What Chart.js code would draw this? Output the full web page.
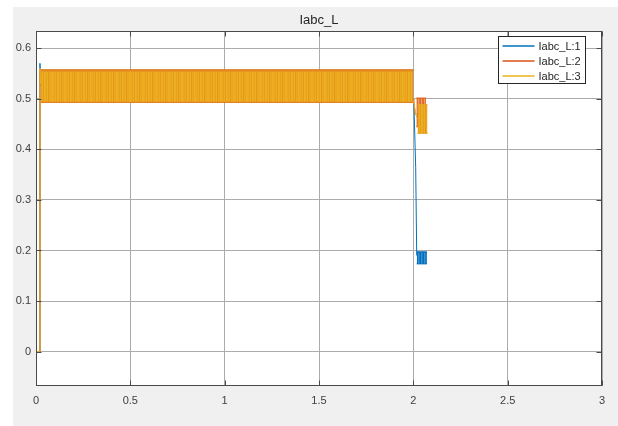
<!DOCTYPE html>
<html>
<head>
<meta charset="utf-8">
<script src="https://cdn.jsdelivr.net/npm/chart.js@4.4.0/dist/chart.umd.min.js"></script>
<style>
  html, body { margin: 0; padding: 0; background: #fff; }
  #wrap { width: 618px; height: 426px; }
</style>
</head>
<body>
<div id="wrap"><canvas id="scope" width="618" height="426"></canvas></div>
<script>
// Labels and axis ticks
const chartTitle = 'Iabc_L';
const seriesLabels = ['Iabc_L:1', 'Iabc_L:2', 'Iabc_L:3'];
const xTicks = [0, 0.5, 1, 1.5, 2, 2.5, 3];
const yTicks = [0, 0.1, 0.2, 0.3, 0.4, 0.5, 0.6];
const xRange = [0, 3];
const yRange = [-0.068, 0.634];

// Traces (time in s, current); null = hidden inside the ripple band
const ch1Time  = [0, 0.020, 0.021, 0.025, 1.0, 2.003, 2.0125, 2.018];
const ch1Value = [0, 0, 0.570, 0.525, null, 0.490, 0.364, 0.190];
const ch2Time  = [0, 0.020, 0.021, 0.024, 1.0, 2.002, 2.010, 2.017];
const ch2Value = [0, 0, 0.556, 0.530, null, 0.500, 0.470, 0.470];
const ch3Time  = [0, 0.020, 0.021, 0.024, 1.0, 2.001, 2.012, 2.022];
const ch3Value = [0, 0, 0.560, 0.530, null, 0.497, 0.470, 0.460];

// Ripple envelopes (oscillation is far too dense to resolve at this size)
const ch1TailTime = [2.018, 2.072];
const ch1TailHigh = [0.197, 0.197];
const ch1TailLow  = [0.174, 0.174];
const ch2BandTime = [0.024, 2.001];
const ch2BandHigh = [0.557, 0.557];
const ch2BandLow  = [0.493, 0.493];
const ch2TailTime = [2.016, 2.068];
const ch2TailHigh = [0.501, 0.501];
const ch2TailLow  = [0.445, 0.445];
const ch3BandTime = [0.024, 2.000];
const ch3BandHigh = [0.556, 0.556];
const ch3BandLow  = [0.494, 0.494];
const ch3TailTime = [2.022, 2.075];
const ch3TailHigh = [0.488, 0.488];
const ch3TailLow  = [0.432, 0.432];

const colors = ['#0072BD', '#D95319', '#EDB120'];

const canvas = document.getElementById('scope');
const ctx = canvas.getContext('2d');

// vertical stripe pattern to mimic the dense ripple
function stripes(cols) {
    const c = document.createElement('canvas');
    c.width = cols.length;
    c.height = 1;
    const g = c.getContext('2d');
    cols.forEach((col, i) => { g.fillStyle = col; g.fillRect(i, 0, 1, 1); });
    return ctx.createPattern(c, 'repeat');
}

const yellowStripes = stripes(['#ECAE20', '#EBA920', '#E9A21F', '#ECAE20', '#E79B1E', '#EDB021',
    '#ECAC20', '#E8A01F', '#EDB021', '#E6961E', '#EBA920', '#EAA51F', '#EDAF21']);
const orangeStripes = stripes(['#DF6A2B', '#EE9F6E', '#E2762F']);
const blueStripes = stripes(['#0072BD', '#3A92D3', '#1A7CC5']);

function pts(time, vals) {
    return time.map((t, i) => ({ x: t, y: vals[i] }));
}

function trace(time, vals, color, order) {
    return { data: pts(time, vals), borderColor: color, borderWidth: 1, pointRadius: 0, fill: false, order: order };
}

// upper edge filled down to the lower edge (next dataset)
function band(time, high, low, fillStyle, edge, width, order) {
    return [
        { data: pts(time, high), fill: '+1', backgroundColor: fillStyle, borderColor: edge, borderWidth: width, pointRadius: 0, order: order },
        { data: pts(time, low), fill: false, borderColor: edge, borderWidth: width, pointRadius: 0, order: order }
    ];
}

const datasets = [
    trace(ch1Time, ch1Value, colors[0], 2),
    ...band(ch1TailTime, ch1TailHigh, ch1TailLow, blueStripes, '#0B6DB8', 1.5, 2),
    trace(ch2Time, ch2Value, colors[1], 1),
    ...band(ch2BandTime, ch2BandHigh, ch2BandLow, orangeStripes, '#DD6A25', 1.5, 1),
    ...band(ch2TailTime, ch2TailHigh, ch2TailLow, orangeStripes, '#DD6A25', 1.5, 1),
    trace(ch3Time, ch3Value, colors[2], 0),
    ...band(ch3BandTime, ch3BandHigh, ch3BandLow, yellowStripes, '#E4881E', 2, 0),
    ...band(ch3TailTime, ch3TailHigh, ch3TailLow, yellowStripes, '#E9A22A', 1.5, 0)
];

// grey figure background and white axes
const backdrop = {
    id: 'backdrop',
    beforeDraw(chart) {
        const c = chart.ctx, a = chart.chartArea;
        c.save();
        c.fillStyle = '#ffffff';
        c.fillRect(0, 0, chart.width, chart.height);
        c.fillStyle = '#F0F0F0';
        c.fillRect(13, 7, chart.width - 13, chart.height - 7);
        c.fillStyle = '#ffffff';
        c.fillRect(a.left, a.top, a.right - a.left, a.bottom - a.top);
        c.restore();
    }
};

// axes box with inward tick marks, then the legend
const boxAndLegend = {
    id: 'boxAndLegend',
    afterDraw(chart) {
        const c = chart.ctx, a = chart.chartArea;
        const xs = chart.scales.x, ys = chart.scales.y;
        const L = Math.round(a.left) + 0.5, R = Math.round(a.right) - 0.5;
        const T = Math.round(a.top) + 0.5, B = Math.round(a.bottom) - 0.5;
        c.save();
        c.strokeStyle = '#4a4a4a';
        c.lineWidth = 1;
        c.strokeRect(L, T, R - L, B - T);
        c.beginPath();
        xTicks.forEach(v => {
            const px = Math.round(xs.getPixelForValue(v)) + 0.5;
            c.moveTo(px, B); c.lineTo(px, B - 5);
            c.moveTo(px, T); c.lineTo(px, T + 5);
        });
        yTicks.forEach(v => {
            const py = Math.round(ys.getPixelForValue(v)) + 0.5;
            c.moveTo(L, py); c.lineTo(L + 5, py);
            c.moveTo(R, py); c.lineTo(R - 5, py);
        });
        c.stroke();

        // legend
        const lx = 498.5, ly = 36.5, lw = 87, lh = 47;
        c.fillStyle = '#ffffff';
        c.fillRect(lx, ly, lw, lh);
        c.strokeStyle = '#262626';
        c.strokeRect(lx, ly, lw, lh);
        c.font = '11px "Liberation Sans", Arial, sans-serif';
        c.textBaseline = 'middle';
        c.textAlign = 'left';
        seriesLabels.forEach((label, i) => {
            const y = Math.round(ly + 9 + i * 15);
            c.strokeStyle = colors[i];
            c.lineWidth = 1.4;
            c.beginPath();
            c.moveTo(lx + 4, y); c.lineTo(lx + 36, y);
            c.stroke();
            c.fillStyle = '#262626';
            c.fillText(label, lx + 40, y + 0.5);
        });
        c.restore();
    }
};

const tickFont = { family: '"Liberation Sans", Arial, sans-serif', size: 11 };
const plainNumber = v => String(+Number(v).toFixed(1));

new Chart(canvas, {
    type: 'line',
    data: { datasets: datasets },
    options: {
        responsive: false,
        animation: false,
        devicePixelRatio: 1,
        layout: { padding: { top: 0, right: 16, bottom: 0, left: 0 } },
        plugins: {
            legend: { display: false },
            tooltip: { enabled: false },
            title: {
                display: true,
                text: chartTitle,
                fullSize: false,
                color: '#262626',
                font: { family: '"Liberation Sans", Arial, sans-serif', size: 13, weight: 'normal' },
                padding: { top: 13, bottom: 2.4 }
            }
        },
        scales: {
            x: {
                type: 'linear',
                min: xRange[0],
                max: xRange[1],
                afterBuildTicks: s => { s.ticks = xTicks.map(v => ({ value: v })); },
                afterFit: s => { s.height = 40; },
                grid: { color: '#ababab', drawTicks: false },
                border: { display: false },
                ticks: { font: tickFont, color: '#404040', padding: 8, maxRotation: 0, callback: plainNumber }
            },
            y: {
                type: 'linear',
                min: yRange[0],
                max: yRange[1],
                afterBuildTicks: s => { s.ticks = yTicks.map(v => ({ value: v })); },
                afterFit: s => { s.width = 36; },
                grid: { color: '#ababab', drawTicks: false },
                border: { display: false },
                ticks: { font: tickFont, color: '#404040', padding: 5, callback: plainNumber }
            }
        }
    },
    plugins: [backdrop, boxAndLegend]
});
</script>
</body>
</html>
